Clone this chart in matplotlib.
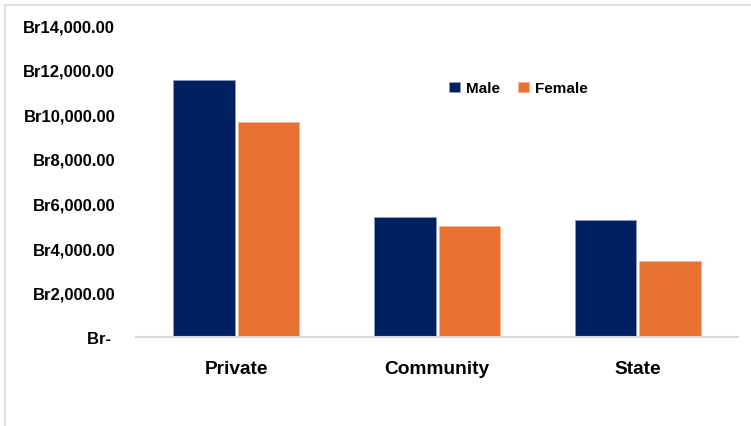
"""Average salary by school type and gender, clustered column chart."""

import matplotlib
matplotlib.use("Agg")
import matplotlib.pyplot as plt
import numpy as np
from matplotlib.patches import Rectangle

categories = ["Private", "Community", "State"]
male = [11520, 5400, 5250]
female = [9670, 4980, 3420]
y_ticks = [0, 2000, 4000, 6000, 8000, 10000, 12000, 14000]
y_tick_labels = ["Br- ", "Br2,000.00", "Br4,000.00", "Br6,000.00", "Br8,000.00",
                 "Br10,000.00", "Br12,000.00", "Br14,000.00"]

MALE_COLOR = "#002060"
FEMALE_COLOR = "#E97132"
FONT = ["Liberation Sans", "DejaVu Sans"]

fig = plt.figure(figsize=(7.51, 4.27), dpi=100)
fig.patch.set_facecolor("white")
ax = fig.add_axes([0.1811, 0.2077, 0.8016, 0.7314])

x = np.arange(len(categories))
width = 0.307
offset = 0.161
ax.bar(x - offset, male, width, color=MALE_COLOR, edgecolor="#8a9bc0", linewidth=0.6, label="Male")
ax.bar(x + offset, female, width, color=FEMALE_COLOR, edgecolor="#f5b48c", linewidth=0.6, label="Female")

ax.set_xlim(-0.5, 2.5)
ax.set_ylim(0, 14000)
ax.set_yticks(y_ticks)
ax.set_yticklabels(y_tick_labels, fontsize=12, fontweight="bold", family=FONT)
ax.set_xticks(x)
ax.set_xticklabels(categories, fontsize=13.8, fontweight="bold", family=FONT)

for side in ["top", "right", "left"]:
    ax.spines[side].set_visible(False)
ax.spines["bottom"].set_color("#d9d9d9")
ax.spines["bottom"].set_linewidth(1.5)
ax.tick_params(axis="y", length=0, pad=15)
ax.tick_params(axis="x", length=0, pad=16)

ax.legend(loc="center", bbox_to_anchor=(0.635, 0.797), ncol=2, frameon=False,
          handlelength=0.7, handleheight=0.7, handletextpad=0.4, columnspacing=1.2,
          prop={"family": FONT, "weight": "bold", "size": 11})

# light frame around the chart area
fig.patches.append(Rectangle((5 / 751, -0.1), 1.2, 1 - 6 / 427 + 0.1, transform=fig.transFigure,
                             fill=False, edgecolor="#d9d9d9", linewidth=1.2))

fig.savefig("out.png", dpi=100, facecolor="white")
